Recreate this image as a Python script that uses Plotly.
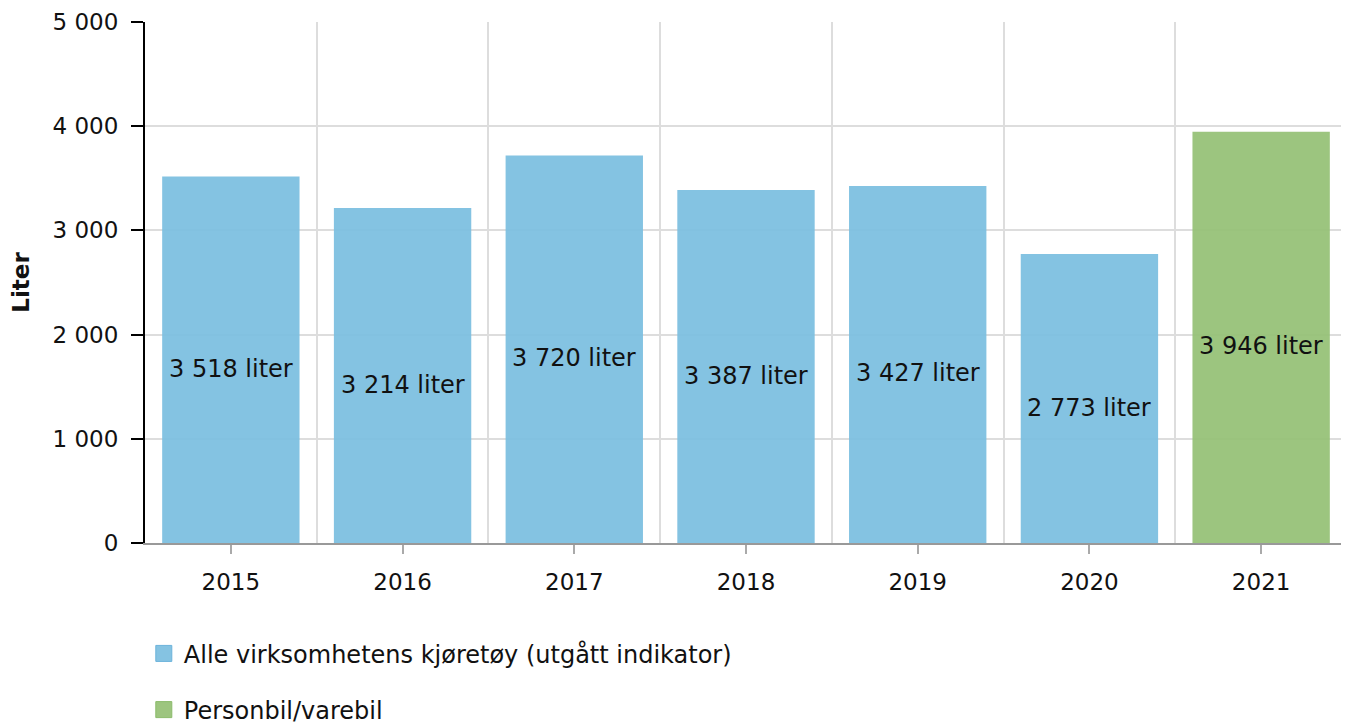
import plotly.graph_objects as go

years = ["2015", "2016", "2017", "2018", "2019", "2020", "2021"]
all_vehicles = [3518, 3214, 3720, 3387, 3427, 2773, None]
car_van = [None, None, None, None, None, None, 3946]
y_ticks = [0, 1000, 2000, 3000, 4000, 5000]
series_names = ["Alle virksomhetens kjøretøy (utgått indikator)", "Personbil/varebil"]
series_colors = ["rgba(122,190,224,0.92)", "rgba(148,192,116,0.92)"]
swatch_colors = ["#85c3e2", "#9dc57f"]
swatch_borders = ["#6bb3db", "#8bbb6a"]

x_pos = list(range(len(years)))
FONT = "DejaVu Sans, Verdana, sans-serif"

fig = go.Figure()
for name, vals, col, sw, bd, grp in zip(series_names, (all_vehicles, car_van),
                                         series_colors, swatch_colors, swatch_borders, ("a", "b")):
    fig.add_trace(go.Bar(
        x=x_pos, y=vals, name=name,
        marker=dict(color=col, line=dict(width=0)),
        width=0.8, legendgroup=grp, showlegend=False,
    ))
    # legend swatch (square marker)
    fig.add_trace(go.Scatter(
        x=[None], y=[None], mode="markers", name=name, legendgroup=grp,
        marker=dict(symbol="square", size=30, color=sw, line=dict(color=bd, width=1)),
        hoverinfo="skip",
    ))

# value labels, placed in the middle of each bar
for series in (all_vehicles, car_van):
    for xp, v in zip(x_pos, series):
        if v is None:
            continue
        fig.add_annotation(
            x=xp, y=v / 2, xref="x", yref="y",
            text=f"{v:,}".replace(",", " ") + " liter",
            showarrow=False, yshift=-9,
            font=dict(color="#111", size=24, family=FONT),
        )

fig.update_layout(
    width=1341, height=716,
    margin=dict(l=137, r=2, t=14, b=181, autoexpand=False),
    paper_bgcolor="white", plot_bgcolor="white",
    barmode="overlay",
    separators=", ",
    font=dict(family=FONT, size=23, color="#111"),
    showlegend=True,
    legend=dict(orientation="v", x=-0.001, xanchor="left", y=-0.1695, yanchor="top",
                font=dict(size=24, family=FONT), tracegroupgap=22,
                itemwidth=30, itemsizing="trace"),
)
fig.update_xaxes(
    range=[-0.5, len(years) - 0.5],
    tickvals=x_pos, ticktext=years,
    showgrid=False,
    ticks="outside", ticklen=9, tickcolor="#aaaaaa", tickwidth=2,
    ticklabelstandoff=8,
    showline=True, linecolor="#999999", linewidth=2,
    tickfont=dict(size=23),
    minor=dict(tick0=0.5, dtick=1, showgrid=True, gridcolor="#dddddd", gridwidth=2, ticks=""),
    zeroline=False,
)
fig.update_yaxes(
    range=[0, 5000],
    tickvals=y_ticks, tickformat=",",
    showgrid=True, gridcolor="#dddddd", gridwidth=2,
    ticks="outside", ticklen=12, tickcolor="black", tickwidth=2,
    ticklabelstandoff=8,
    showline=True, linecolor="black", linewidth=2,
    tickfont=dict(size=23),
    title=dict(text="<b>Liter</b>", font=dict(size=23), standoff=28),
    zeroline=False,
)

fig.write_html("out.html")
